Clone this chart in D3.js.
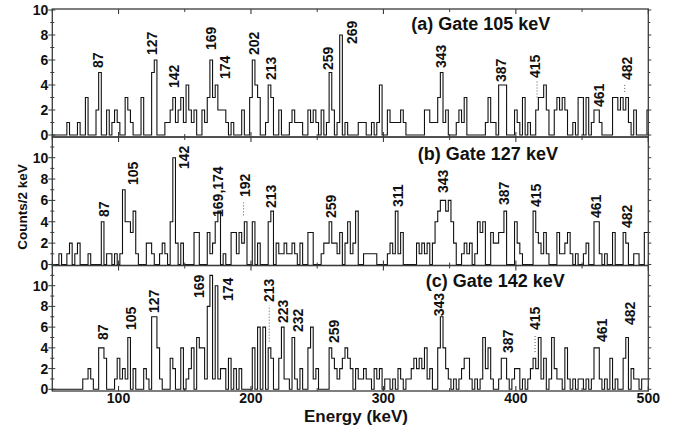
<!DOCTYPE html>
<html><head><meta charset="utf-8">
<script src="https://cdn.jsdelivr.net/npm/d3@7"></script>
<style>
html,body{margin:0;padding:0;background:#fff;}
svg text{font-family:"Liberation Sans",Arial,Helvetica,sans-serif;font-weight:bold;fill:#111;}
</style></head><body>
<svg id="chart" width="678" height="428"></svg>
<script>
// ---- data: counts per 2 keV bin, bin centres 50, 52, ..., 500 keV ----
const binStart = 50;
const binWidth = 2;
const gateA = [
0,0,0,0,0,0,1,0,0,0, 1,0,0,3,0,0,0,2,5,0, 0,2,0,1,2,1,0,0,3,2, 1,0,0,0,3,0,0,0,5,6,
0,0,0,1,1,2,3,1,2,3, 1,4,2,1,2,0,0,2,1,3, 6,3,4,2,2,2,1,0,1,0, 0,0,2,0,0,3,6,4,3,0,
0,1,4,3,0,0,2,0,0,0, 1,2,1,1,1,0,0,2,1,2, 1,0,2,0,1,5,2,0,1,8, 0,1,0,0,0,0,1,1,1,0,
0,1,0,1,4,0,0,2,1,1, 1,1,2,1,0,0,0,0,0,0, 0,2,2,1,1,1,3,5,1,2, 0,0,0,1,2,1,3,0,0,0,
0,0,0,0,1,3,1,1,0,4, 4,4,0,0,0,2,1,0,3,0, 1,0,0,2,3,3,4,2,0,0, 2,3,2,3,2,0,0,1,0,3,
3,0,3,0,1,2,2,1,0,0, 0,0,3,3,2,3,2,3,1,0, 2,0,0,0,0,2];
const gateB = [
0,0,0,1,0,0,1,2,0,1, 2,0,0,0,1,0,0,0,0,4, 0,1,1,0,1,0,1,7,4,4, 3,5,1,0,0,0,2,2,1,0,
0,1,2,1,0,4,10,2,0,2, 0,0,0,0,3,3,0,0,0,3, 1,2,4,5,0,1,0,0,3,3, 1,3,2,4,0,0,4,0,2,0,
0,0,4,5,0,2,1,1,2,1, 1,2,1,0,2,0,0,3,3,0, 0,0,1,2,2,4,2,2,1,3, 0,2,4,1,2,5,0,0,1,1,
1,1,1,0,0,0,0,1,2,1, 5,1,3,0,0,0,0,0,2,1, 2,1,2,0,2,4,5,6,6,5, 6,4,2,0,0,1,2,1,2,0,
1,4,3,4,0,0,3,2,2,3, 3,5,0,0,0,4,2,1,0,0, 0,0,5,3,2,1,3,1,0,0, 0,3,1,1,2,3,1,0,1,0,
0,1,2,0,0,4,4,1,0,1, 0,0,3,0,0,0,3,2,0,0, 1,1,0,0,3,3];
const gateC = [
0,0,0,0,0,0,0,0,0,0, 0,0,1,1,2,1,0,0,4,4, 3,0,0,0,1,3,1,2,1,5, 0,2,0,0,0,2,1,0,7,7,
4,1,0,0,0,3,2,0,0,4, 0,1,2,4,0,5,4,4,1,8, 11,1,10,1,2,2,0,3,0,2, 0,2,0,0,0,0,4,0,6,0,
6,0,4,3,0,0,3,6,1,1, 0,5,1,0,2,0,0,4,6,1, 2,0,0,0,0,4,3,2,1,2, 3,4,3,2,0,2,1,1,2,1,
1,0,2,1,2,0,1,1,0,1, 0,2,1,0,1,1,2,3,2,3, 2,4,1,2,0,0,4,7,4,2, 1,0,1,0,1,2,3,3,1,0,
1,0,1,5,2,4,1,0,0,1, 3,3,1,0,1,2,2,0,1,0, 1,2,3,2,5,1,3,0,1,5, 2,1,1,0,4,1,0,1,0,1,
1,0,1,0,1,4,4,1,0,1, 0,3,0,1,0,0,3,5,0,2, 1,1,0,1,1,1];

const titles = ["(a) Gate 105 keV", "(b) Gate 127 keV", "(c) Gate 142 keV"];
const titleE = [321, 326, 332];        // keV where each title starts
const titleC = [8.4, 9.8, 9.9];        // count level of title baseline

const xTickValues = [100, 200, 300, 400, 500];
const xMinorValues = [50, 150, 250, 350, 450];
const yTickValues = [0, 2, 4, 6, 8, 10];

// peak labels: text, energy position (keV), count level of text start
const labelsA = ["87","127","142","169","174","202","213","259","269","343","387","415","461","482"];
const labelEA = [84.6,125.3,141.9,169.8,180.4,202.3,214.9,258.2,276.1,343.3,388.6,414.5,462.8,483.7];
const labelCA = [5.36,6.4,3.76,6.8,4.48,6.4,4.4,5.2,7.28,5.36,4.24,4.56,2.24,4.4];
const labelsB = ["87","105","142","169,174","192","213","259","311","343","387","415","461","482"];
const labelEB = [89.0,110.7,149.4,174.9,195.5,214.9,260.2,311.3,345.2,391.1,415.3,460.5,484.2];
const labelCB = [4.45,7.44,8.94,4.45,6.32,5.29,4.35,5.38,6.69,5.57,5.38,4.35,3.42];
const labelsC = ["87","105","127","169","174","213","223","232","259","343","387","415","461","482"];
const labelEC = [88.5,109.4,127.0,161.0,182.9,213.8,224.0,235.7,262.7,342.2,394.3,414.5,464.8,486.2];
const labelCC = [4.76,5.72,7.36,8.81,8.52,8.42,6.4,5.53,4.47,7.04,3.5,5.72,4.57,6.21];

// dotted leader lines: energy, count from, count to
const leadersA = [[416, 3.0, 4.3], [482.2, 3.45, 4.15]];
const leadersB = [[194.4, 4.6, 5.8]];
const leadersC = [[213.8, 4.6, 8.1], [414.5, 3.6, 5.25]];

// ---- layout ----
const svg = d3.select("#chart");
const x = d3.scaleLinear().domain([50, 500]).range([52.3, 648.3]);

const panels = [
  {data: gateA, zeroY: 135,   tenY: 10,    top: 9,     bottom: 137,   max: 10,
   labels: labelsA, le: labelEA, lc: labelCA, leaders: leadersA},
  {data: gateB, zeroY: 264.5, tenY: 157.7, top: 137,   bottom: 265.5, max: 12,
   labels: labelsB, le: labelEB, lc: labelCB, leaders: leadersB},
  {data: gateC, zeroY: 389.3, tenY: 285.7, top: 265.5, bottom: 391,   max: 12,
   labels: labelsC, le: labelEC, lc: labelCC, leaders: leadersC}
];

const frameColor = "#3a3a3a";

panels.forEach((p, pi) => {
  const y = d3.scaleLinear().domain([0, 10]).range([p.zeroY, p.tenY]);
  const g = svg.append("g");

  const clipId = "clip" + pi;
  svg.append("clipPath").attr("id", clipId).append("rect")
    .attr("x", x(50)).attr("y", p.top)
    .attr("width", x(500) - x(50)).attr("height", p.bottom - p.top);

  // histogram (step) from the bins
  const pts = p.data.map((c, i) => [binStart - binWidth / 2 + binWidth * i, c]);
  pts.push([binStart - binWidth / 2 + binWidth * p.data.length, p.data[p.data.length - 1]]);
  const line = d3.line().x(d => x(d[0])).y(d => y(d[1])).curve(d3.curveStepAfter);
  g.append("path").attr("d", line(pts)).attr("clip-path", `url(#${clipId})`)
    .attr("fill", "none").attr("stroke", "#111").attr("stroke-width", 1.1)
    .attr("stroke-linejoin", "miter");

  // frame
  g.append("rect").attr("x", x(50)).attr("y", p.top)
    .attr("width", x(500) - x(50)).attr("height", p.bottom - p.top)
    .attr("fill", "none").attr("stroke", frameColor).attr("stroke-width", 1.3);

  // x ticks (inward, bottom and top)
  xTickValues.forEach(v => {
    g.append("line").attr("x1", x(v)).attr("x2", x(v)).attr("y1", p.bottom).attr("y2", p.bottom - 5)
      .attr("stroke", frameColor).attr("stroke-width", 1.1);
    g.append("line").attr("x1", x(v)).attr("x2", x(v)).attr("y1", p.top).attr("y2", p.top + 5)
      .attr("stroke", frameColor).attr("stroke-width", 1.1);
  });
  xMinorValues.forEach(v => {
    g.append("line").attr("x1", x(v)).attr("x2", x(v)).attr("y1", p.bottom).attr("y2", p.bottom - 3)
      .attr("stroke", frameColor).attr("stroke-width", 1);
    g.append("line").attr("x1", x(v)).attr("x2", x(v)).attr("y1", p.top).attr("y2", p.top + 3)
      .attr("stroke", frameColor).attr("stroke-width", 1);
  });

  // y ticks
  const allY = d3.range(0, p.max + 1);
  allY.forEach(v => {
    const yy = y(v);
    if (yy < p.top - 0.5) return;
    const major = v % 2 === 0;
    g.append("line").attr("x1", x(50) - (major ? 4 : 2)).attr("x2", x(50) + (major ? 3 : 2))
      .attr("y1", yy).attr("y2", yy).attr("stroke", frameColor).attr("stroke-width", 1);
    g.append("line").attr("x1", x(500)).attr("x2", x(500) + (major ? 3 : 2))
      .attr("y1", yy).attr("y2", yy).attr("stroke", frameColor).attr("stroke-width", 1);
  });
  yTickValues.forEach(v => {
    g.append("text").attr("x", x(50) - 4).attr("y", y(v)).attr("dy", "0.36em")
      .attr("text-anchor", "end").attr("font-size", "14px").text(v);
  });

  // title
  g.append("text").attr("x", x(titleE[pi])).attr("y", y(titleC[pi]))
    .attr("font-size", "18px").text(titles[pi]);

  // peak labels
  p.labels.forEach((t, i) => {
    g.append("text")
      .attr("transform", `translate(${x(p.le[i])},${y(p.lc[i])}) rotate(-90)`)
      .attr("dy", "0.36em").attr("font-size", "14px").text(t);
  });

  // leader lines
  p.leaders.forEach(l => {
    g.append("line").attr("x1", x(l[0])).attr("x2", x(l[0]))
      .attr("y1", y(l[1])).attr("y2", y(l[2]))
      .attr("stroke", "#444").attr("stroke-width", 0.9).attr("stroke-dasharray", "1,2");
  });
});

// bottom axis labels
xTickValues.forEach(v => {
  svg.append("text").attr("x", x(v)).attr("y", 402.5).attr("text-anchor", "middle")
    .attr("font-size", "14px").text(v);
});

svg.append("text").attr("x", 356).attr("y", 422).attr("text-anchor", "middle")
  .attr("font-size", "17px").text("Energy (keV)");
svg.append("text").attr("transform", "translate(27,207) rotate(-90)")
  .attr("text-anchor", "middle").attr("font-size", "13.5px").text("Counts/2 keV");
</script>
</body></html>
